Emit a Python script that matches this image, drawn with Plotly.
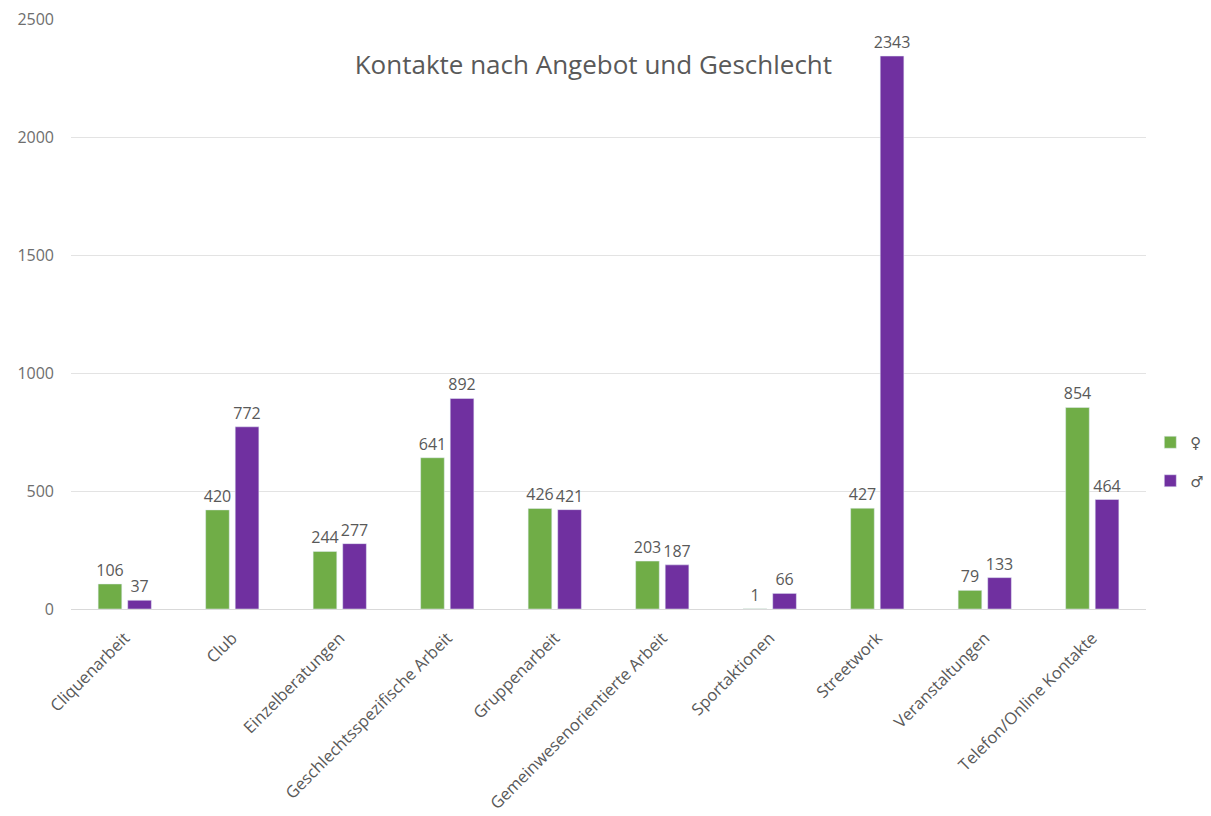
import plotly.graph_objects as go

categories = [
    "Cliquenarbeit", "Club", "Einzelberatungen", "Geschlechtsspezifische Arbeit",
    "Gruppenarbeit", "Gemeinwesenorientierte Arbeit", "Sportaktionen",
    "Streetwork", "Veranstaltungen", "Telefon/Online Kontakte",
]
female = [106, 420, 244, 641, 426, 203, 1, 427, 79, 854]
male = [37, 772, 277, 892, 421, 187, 66, 2343, 133, 464]

GREEN = "#70AD47"
PURPLE = "#7030A0"
GRAY = "#595959"
FONT = "Open Sans"

label_font = dict(color=GRAY, size=16, family=FONT)

fig = go.Figure()
fig.add_trace(go.Bar(
    x=categories, y=female, name="♀", marker_color=GREEN,
    text=female, textposition="outside", cliponaxis=False,
    constraintext="none", textfont=label_font, legendgroup="f",
))
fig.add_trace(go.Bar(
    x=categories, y=male, name="♂", marker_color=PURPLE,
    text=male, textposition="outside", cliponaxis=False,
    constraintext="none", textfont=label_font, legendgroup="m",
))

fig.update_layout(
    width=1211, height=816,
    paper_bgcolor="white", plot_bgcolor="white",
    margin=dict(l=71, r=65, t=19, b=207, autoexpand=False),
    barmode="group", bargap=0.45, bargroupgap=0.2,
    font=dict(family=FONT, color=GRAY, size=14),
    title=dict(
        text="Kontakte nach Angebot und Geschlecht",
        x=0.49, xref="container", xanchor="center",
        y=1 - 65 / 816, yref="container", yanchor="middle",
        font=dict(size=26, color=GRAY, family=FONT),
    ),
    showlegend=True,
    legend=dict(
        x=1.004, xanchor="left", y=0.25, yanchor="middle",
        font=dict(size=15, color=GRAY, family="DejaVu Sans"),
        tracegroupgap=16, itemwidth=30,
        bgcolor="rgba(0,0,0,0)",
    ),
)
fig.update_xaxes(
    tickangle=-45, showline=True, linecolor="#D9D9D9", linewidth=1,
    ticks="", tickfont=dict(size=16.5, color=GRAY, family=FONT),
    ticklabelstandoff=12,
)
fig.update_yaxes(
    range=[0, 2500], dtick=500, showgrid=True, gridcolor="#E3E3E3",
    zeroline=False, showline=False, ticks="",
    tickfont=dict(size=16, color="#6E6E6E", family=FONT),
    ticklabelstandoff=16,
)

fig.write_html("out.html")
